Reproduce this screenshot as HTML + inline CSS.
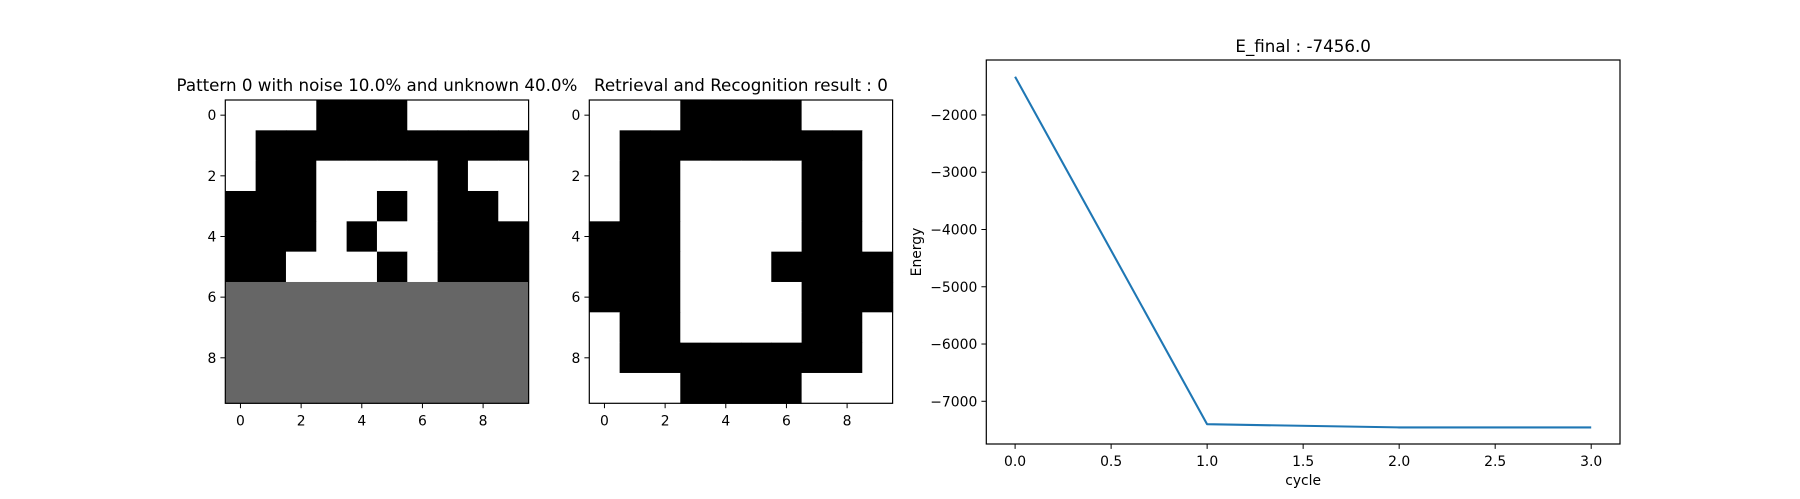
<!DOCTYPE html>
<html><head><meta charset="utf-8"><style>
html,body{margin:0;padding:0;background:#fff;}
svg{display:block;font-family:"DejaVu Sans","Liberation Sans",sans-serif;}
</style></head><body>
<svg id="fig" width="1800" height="499" viewBox="0 0 1800 499" xmlns="http://www.w3.org/2000/svg">
<rect width="1800" height="499" fill="#fff"/>
<g id="img1"></g>
<g id="img2"></g>
<g id="line"></g>
</svg>
<script>
const noisyGrid = [
 "0001110000",
 "0111111111",
 "0110000100",
 "1110010110",
 "1110100111",
 "1100010111",
 "2222222222",
 "2222222222",
 "2222222222",
 "2222222222"];
const resultGrid = [
 "0001111000",
 "0111111110",
 "0110000110",
 "0110000110",
 "1110000110",
 "1110001111",
 "1110000111",
 "0110000110",
 "0111111110",
 "0001111000"];
const cycles = [0, 1, 2, 3];
const energy = [-1331, -7400, -7456, -7456];
const xTicks = [0.0, 0.5, 1.0, 1.5, 2.0, 2.5, 3.0];
const yTicks = [-2000, -3000, -4000, -5000, -6000, -7000];
const imgTicks = [0, 2, 4, 6, 8];

const NS = "http://www.w3.org/2000/svg";
function mk(tag, attrs, parent, text){
  const e = document.createElementNS(NS, tag);
  for (const k in attrs) e.setAttribute(k, attrs[k]);
  if (text !== undefined) e.textContent = text;
  parent.appendChild(e);
  return e;
}
const colors = {"0":"#ffffff","1":"#000000","2":"#666666"};

function drawImage(gid, grid, left, title){
  const g = document.getElementById(gid);
  const top = 100, size = 303.3, cell = size/10;
  grid.forEach((row, r) => {
    [...row].forEach((v, c) => {
      const rc = mk('rect', {x:left+c*cell, y:top+r*cell, width:cell+0.5, height:cell+0.5, fill:colors[v]}, g);
      
      
    });
  });
  const fr = mk('rect', {x:left, y:top, width:size, height:size, fill:'none', stroke:'#000', 'stroke-width':1.2}, g);
  
  
  imgTicks.forEach(t => {
    const p = top + (t+0.5)*cell;
    mk('line', {x1:left-4.9, x2:left, y1:p, y2:p, stroke:'#000', 'stroke-width':1}, g);
    const yl = mk('text', {x:left-9, y:p+5, 'font-size':13.9, 'text-anchor':'end', fill:'#000'}, g, t);
    
    
    const px = left + (t+0.5)*cell;
    mk('line', {x1:px, x2:px, y1:top+size, y2:top+size+4.9, stroke:'#000', 'stroke-width':1}, g);
    const xl = mk('text', {x:px, y:top+size+22, 'font-size':13.9, 'text-anchor':'middle', fill:'#000'}, g, t);
    
    
  });
  const tt = mk('text', {x:left+size/2, y:91, 'font-size':16.7, 'text-anchor':'middle', fill:'#000'}, g, title);
  
  
}
drawImage('img1', noisyGrid, 225.3, 'Pattern 0 with noise 10.0% and unknown 40.0%');
drawImage('img2', resultGrid, 589.3, 'Retrieval and Recognition result : 0');

const L = 986.3, R = 1620, T = 60, B = 444;
const xMin = -0.15, xMax = 3.15, yMin = -7746, yMax = -1040;
const sx = v => L + (v - xMin)/(xMax - xMin)*(R - L);
const sy = v => B - (v - yMin)/(yMax - yMin)*(B - T);
const lg = document.getElementById('line');
const pts = cycles.map((c,i) => sx(c).toFixed(1)+','+sy(energy[i]).toFixed(1)).join(' ');
const pl = mk('polyline', {points:pts, fill:'none', stroke:'#1f77b4', 'stroke-width':2.1, 'stroke-linejoin':'round'}, lg);


const fr = mk('rect', {x:L, y:T, width:R-L, height:B-T, fill:'none', stroke:'#000', 'stroke-width':1.2}, lg);


xTicks.forEach(t => {
  const px = sx(t);
  mk('line', {x1:px, x2:px, y1:B, y2:B+4.9, stroke:'#000', 'stroke-width':1}, lg);
  const tl = mk('text', {x:px, y:B+22, 'font-size':13.9, 'text-anchor':'middle', fill:'#000'}, lg, t.toFixed(1));
  
  
});
yTicks.forEach(t => {
  const py = sy(t);
  mk('line', {x1:L-4.9, x2:L, y1:py, y2:py, stroke:'#000', 'stroke-width':1}, lg);
  const tl = mk('text', {x:L-9, y:py+5, 'font-size':13.9, 'text-anchor':'end', fill:'#000'}, lg, '\u2212'+Math.abs(t));
  
  
});
const xt = mk('text', {x:(L+R)/2, y:485, 'font-size':13.9, 'text-anchor':'middle', fill:'#000'}, lg, 'cycle');


const yt = mk('text', {x:921, y:(T+B)/2, 'font-size':13.9, 'text-anchor':'middle', fill:'#000', transform:'rotate(-90 921 '+((T+B)/2)+')'}, lg, 'Energy');


const ct = mk('text', {x:(L+R)/2, y:52, 'font-size':16.7, 'text-anchor':'middle', fill:'#000'}, lg, 'E_final : -7456.0');


</script>
</body></html>
